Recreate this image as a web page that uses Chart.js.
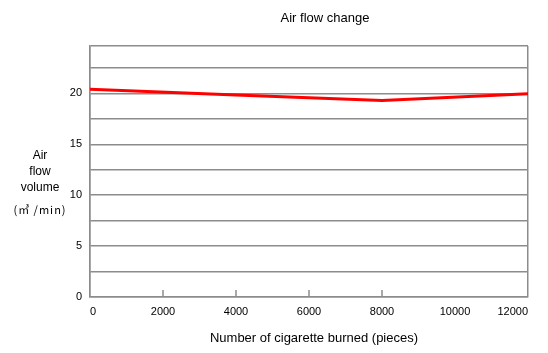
<!DOCTYPE html>
<html>
<head>
<meta charset="utf-8">
<script src="https://cdn.jsdelivr.net/npm/chart.js@4"></script>
<style>
  body { margin: 0; background: #fff; }
  #wrap { position: relative; width: 548px; height: 353px; }
  .lbl { position: absolute; font-family: "Liberation Sans", Arial, sans-serif; color: #000; white-space: nowrap; }
</style>
</head>
<body>
<div id="wrap">
  <canvas id="chart" width="548" height="353"></canvas>
  <div class="lbl" style="left:0;width:650px;top:10px;text-align:center;font-size:13px;">Air flow change</div>
  <div class="lbl" style="left:0;width:80px;top:147px;text-align:center;font-size:12px;line-height:16px;">Air<br>flow<br>volume</div>
  <div class="lbl" style="left:0;width:80px;top:201px;text-align:center;font-size:11px;letter-spacing:1px;font-family:'Noto Sans CJK JP','Liberation Sans',sans-serif;">(㎥ /min)</div>
  <div class="lbl" style="left:0;width:628px;top:330px;text-align:center;font-size:13px;">Number of cigarette burned (pieces)</div>
</div>
<script>
// chart values
const burned = [0, 4000, 8000, 12000];
const airFlow = [20.4, 19.85, 19.3, 19.95];
const xTicks = [0, 2000, 4000, 6000, 8000, 10000, 12000];
const innerTicks = [2000, 4000, 6000, 8000];

const gridColor = '#8c8c8c';

// short tick marks pointing up into the plot area
const innerTickPlugin = {
    id: 'innerTicks',
    afterDatasetsDraw(chart) {
        const ctx = chart.ctx;
        const x = chart.scales.x;
        const bottom = chart.chartArea.bottom;
        ctx.save();
        ctx.strokeStyle = gridColor;
        ctx.lineWidth = 1.5;
        innerTicks.forEach(v => {
            const px = x.getPixelForValue(v);
            ctx.beginPath();
            ctx.moveTo(px, bottom);
            ctx.lineTo(px, bottom - 7);
            ctx.stroke();
        });
        ctx.restore();
    }
};

new Chart(document.getElementById('chart'), {
    type: 'line',
    data: {
        datasets: [{
            data: burned.map((b, i) => ({ x: b, y: airFlow[i] })),
            borderColor: '#ff0000',
            borderWidth: 3,
            pointRadius: 0,
            tension: 0,
            fill: false
        }]
    },
    options: {
        responsive: false,
        animation: false,
        layout: { padding: { top: 46, right: 20, left: 0, bottom: 0 } },
        plugins: { legend: { display: false }, tooltip: { enabled: false } },
        scales: {
            x: {
                type: 'linear',
                min: 0,
                max: 12000,
                afterBuildTicks: (scale) => { scale.ticks = xTicks.map(v => ({ value: v })); },
                afterFit: (scale) => { scale.height = 56; },
                afterUpdate: (scale) => { scale.right = 528; scale.width = scale.right - scale.left; },
                grid: {
                    drawTicks: false,
                    lineWidth: 1.5,
                    color: (c) => (c.tick && (c.tick.value === 0 || c.tick.value === 12000)) ? gridColor : 'rgba(0,0,0,0)'
                },
                border: { color: gridColor, width: 1.5 },
                ticks: {
                    padding: 8,
                    align: 'inner',
                    maxRotation: 0,
                    color: '#000',
                    font: { family: 'Liberation Sans', size: 11 },
                    callback: (v) => String(v)
                }
            },
            y: {
                min: 0,
                max: 24.65,
                afterFit: (scale) => { scale.width = 90; },
                grid: { drawTicks: false, lineWidth: 1.5, color: gridColor },
                border: { color: gridColor, width: 1.5 },
                ticks: {
                    stepSize: 2.5,
                    padding: 8,
                    color: '#000',
                    font: { family: 'Liberation Sans', size: 11 },
                    callback: (v) => (v % 5 === 0 ? String(v) : '')
                }
            }
        }
    },
    plugins: [innerTickPlugin]
});
</script>
</body>
</html>
